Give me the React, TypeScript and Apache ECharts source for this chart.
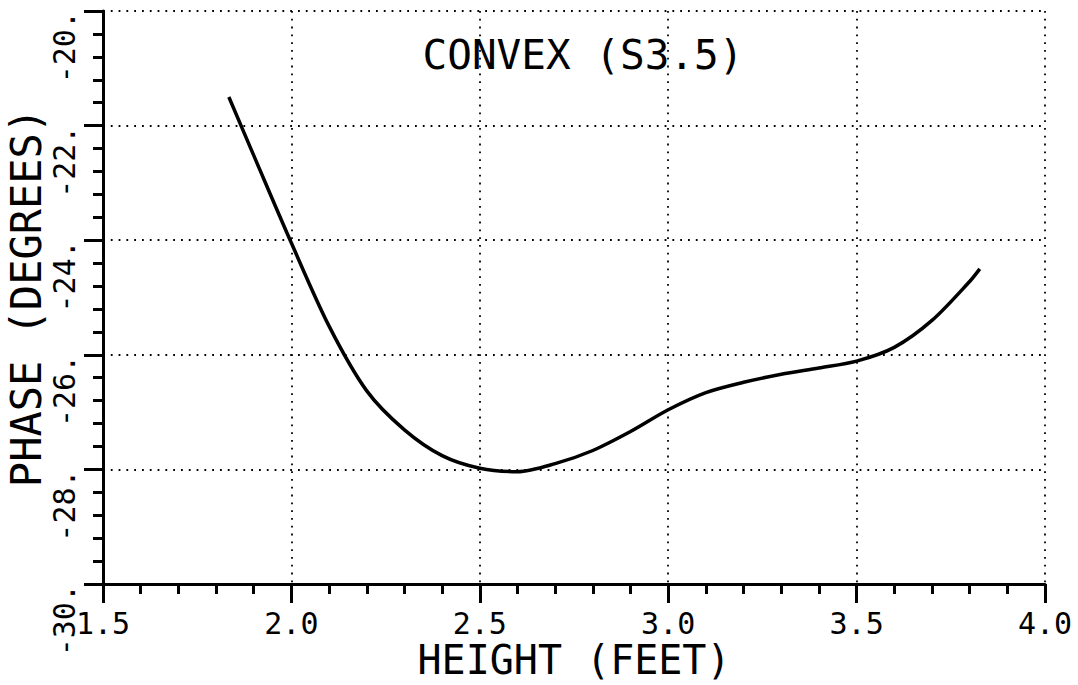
import React, { useEffect, useRef } from "react";
import * as echarts from "echarts";

const chartTitle = "CONVEX (S3.5)";
const xAxisName = "HEIGHT (FEET)";
const yAxisName = "PHASE (DEGREES)";

const heightFt = [1.834, 1.9, 2.0, 2.1, 2.2, 2.3, 2.4, 2.5, 2.6, 2.7, 2.8, 2.9, 3.0, 3.1, 3.2, 3.3, 3.4, 3.5, 3.6, 3.7, 3.8, 3.827];
const phaseDeg = [-21.5, -22.52, -24.05, -25.5, -26.63, -27.31, -27.76, -27.98, -28.04, -27.9, -27.67, -27.34, -26.96, -26.66, -26.48, -26.34, -26.23, -26.11, -25.87, -25.4, -24.72, -24.5];

const xMin = 1.5, xMax = 4.0, xStep = 0.5;
const yMin = -30, yMax = -20, yStep = 2;

const FONT = "DejaVu Sans Mono";

export default function App() {
  const ref = useRef<HTMLDivElement>(null);
  useEffect(() => {
    if (!ref.current) return;
    const chart = echarts.init(ref.current, undefined, { renderer: "svg" });
    const data = heightFt.map((x, i) => [x, phaseDeg[i]]);
    const gridLine = { show: true, lineStyle: { color: "#000", width: 1.8, type: [1.8, 6] as any } };
    chart.setOption({
      animation: false,
      backgroundColor: "#fff",
      grid: { left: 103, right: 33, top: 11, bottom: 101, containLabel: false, outerBoundsMode: "none" },
      graphic: [
        {
          type: "text",
          x: 583,
          y: 55,
          style: {
            text: chartTitle,
            fontFamily: FONT,
            fontSize: 41,
            fill: "#000",
            align: "center",
            verticalAlign: "middle",
            textAlign: "center",
            textVerticalAlign: "middle",
          },
        },
      ],
      xAxis: {
        type: "value",
        min: xMin,
        max: xMax,
        interval: xStep,
        name: xAxisName,
        nameLocation: "middle",
        nameGap: 56,
        nameMoveOverlap: false,
        nameTextStyle: { fontFamily: FONT, fontSize: 40, color: "#000" },
        axisLine: { show: true, onZero: false, lineStyle: { color: "#000", width: 3 } },
        axisTick: { show: true, inside: false, length: 19, lineStyle: { color: "#000", width: 3 } },
        minorTick: { show: true, splitNumber: 5, length: 10, lineStyle: { color: "#000", width: 3 } },
        axisLabel: {
          show: true,
          margin: 24,
          fontFamily: FONT,
          fontSize: 30,
          color: "#000",
          formatter: (v: number) => v.toFixed(1),
        },
        splitLine: gridLine,
      },
      yAxis: {
        type: "value",
        min: yMin,
        max: yMax,
        interval: yStep,
        name: yAxisName,
        nameLocation: "middle",
        nameGap: 56,
        nameRotate: 90,
        nameMoveOverlap: false,
        nameTextStyle: { fontFamily: FONT, fontSize: 42, color: "#000" },
        axisLine: { show: true, onZero: false, lineStyle: { color: "#000", width: 3 } },
        axisTick: { show: true, inside: false, length: 19, lineStyle: { color: "#000", width: 3 } },
        minorTick: { show: true, splitNumber: 5, length: 10, lineStyle: { color: "#000", width: 3 } },
        axisLabel: {
          show: true,
          rotate: 90,
          margin: 24,
          align: "right",
          verticalAlign: "bottom",
          fontFamily: FONT,
          fontSize: 30,
          color: "#000",
          formatter: (v: number) => `${v.toFixed(0)}.`,
        },
        splitLine: gridLine,
      },
      series: [
        {
          type: "line",
          data,
          smooth: 0.3,
          symbol: "none",
          clip: false,
          lineStyle: { color: "#000", width: 3.5 },
        },
      ],
    });
    return () => chart.dispose();
  }, []);
  return (
    <div
      ref={ref}
      style={{ position: "fixed", left: 0, top: 0, width: 1078, height: 685, background: "#fff" }}
    />
  );
}
